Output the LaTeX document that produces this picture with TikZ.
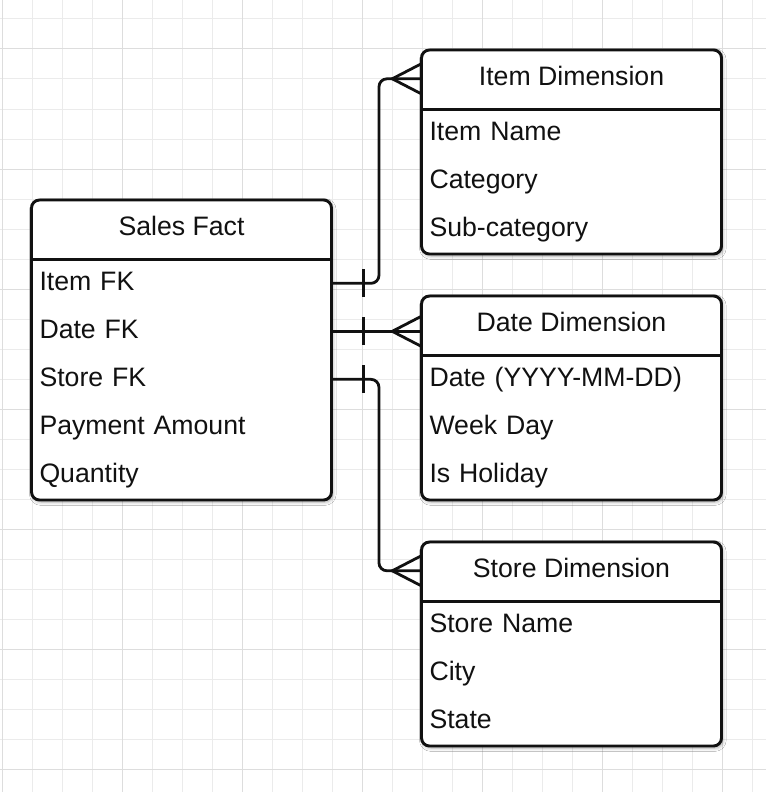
\documentclass[tikz,border=0pt]{standalone}
\usepackage{fontspec}
\setmainfont{Liberation Sans}
\usepackage{xcolor}
\usepackage{tikz}
\usetikzlibrary{
  arrows.meta, positioning,
  calc, shadows.blur
}
\definecolor{gridminor}{HTML}{EBEBEB}
\definecolor{gridmajor}{HTML}{DDDDDD}
\definecolor{inkblack} {HTML}{111111}
\tikzset{
  tablebox/.style={
    rectangle, rounded corners=6pt,
    minimum width=225pt, inner sep=0pt,
    draw=inkblack, fill=white, line width=2.2pt,
    blur shadow={shadow xshift=1pt, shadow yshift=-1.5pt,
                 shadow blur radius=2.5pt, shadow opacity=35}
  },
  headcell/.style={
    rectangle, minimum width=225pt, minimum height=45pt,
    inner sep=0pt, text height=14.5pt, text depth=4pt,
    text=inkblack
  },
  rowcell/.style={
    rectangle, anchor=north, text width=213pt, align=left,
    inner xsep=6pt, inner ysep=0pt, minimum height=36pt,
    text height=14.5pt, text depth=4pt, text=inkblack
  },
  divider/.style={line width=2.2pt, color=inkblack},
  erlink/.style={line width=2.1pt, color=inkblack, rounded corners=6pt},
  minorgrid/.style={line width=0.75pt, color=gridminor},
  majorgrid/.style={line width=0.75pt, color=gridmajor}
}

\begin{document}
\begin{tikzpicture}[
  x=0.75pt, y=-0.75pt,
  every node/.style={font=\fontsize{20}{24}\selectfont}
]
  \useasboundingbox (0,0) rectangle (766,792);
  \fill[white] (0,0) rectangle (766,792);

  % background grid
  \foreach \gx in {2,32,...,752}{
    \draw[minorgrid] (\gx,0) -- (\gx,792);
  }
  \foreach \gy in {19,49,...,769}{
    \draw[minorgrid] (0,\gy) -- (766,\gy);
  }
  \foreach \gx in {2,122,...,722}{
    \draw[majorgrid] (\gx,0) -- (\gx,792);
  }
  \foreach \gy in {49,169,...,769}{
    \draw[majorgrid] (0,\gy) -- (766,\gy);
  }

  % fact table
  \node[tablebox, minimum height=225pt] (sales) at (181.5,350) {};
  \node[headcell, below=0pt of sales.north] (saleshead) {Sales Fact};
  \draw[divider] (saleshead.south west) -- (saleshead.south east);
  \foreach \txt [count=\i] in {Item FK, Date FK, Store FK,
                               Payment Amount, Quantity}{
    \node[rowcell, yshift={-(\i-1)*36pt}] (sales\i) at (saleshead.south) {\txt};
  }

  % dimension tables
  \node[tablebox, minimum height=153pt] (item) at (571.5,152) {};
  \node[headcell, below=0pt of item.north] (itemhead) {Item Dimension};
  \draw[divider] (itemhead.south west) -- (itemhead.south east);
  \foreach \txt [count=\i] in {Item Name, Category, Sub-category}{
    \node[rowcell, yshift={-(\i-1)*36pt}] (item\i) at (itemhead.south) {\txt};
  }

  \node[tablebox, minimum height=153pt] (date) at (571.5,398) {};
  \node[headcell, below=0pt of date.north] (datehead) {Date Dimension};
  \draw[divider] (datehead.south west) -- (datehead.south east);
  \foreach \txt [count=\i] in {Date (YYYY-MM-DD), Week Day, Is Holiday}{
    \node[rowcell, yshift={-(\i-1)*36pt}] (date\i) at (datehead.south) {\txt};
  }

  \node[tablebox, minimum height=153pt] (store) at (571.5,644) {};
  \node[headcell, below=0pt of store.north] (storehead) {Store Dimension};
  \draw[divider] (storehead.south west) -- (storehead.south east);
  \foreach \txt [count=\i] in {Store Name, City, State}{
    \node[rowcell, yshift={-(\i-1)*36pt}] (store\i) at (storehead.south) {\txt};
  }

  % relationships
  \coordinate (itemfrom)  at (sales.east |- sales1);
  \coordinate (datefrom)  at (sales.east |- sales2);
  \coordinate (storefrom) at (sales.east |- sales3);
  \coordinate (itemto)  at (itemhead.west);
  \coordinate (dateto)  at (datehead.west |- sales2);
  \coordinate (storeto) at (storehead.west);

  \draw[erlink] (itemfrom) -- ++(34.5pt,0) |- (itemto);
  \draw[erlink] (datefrom) -- (dateto);
  \draw[erlink] (storefrom) -- ++(34.5pt,0) |- (storeto);

  \foreach \f in {itemfrom, datefrom, storefrom}{
    \draw[erlink] ([xshift=23pt, yshift=10.5pt]\f) -- ([xshift=23pt, yshift=-10.5pt]\f);
  }
  \foreach \t in {itemto, dateto, storeto}{
    \draw[erlink, rounded corners=0pt] ([yshift=11.25pt]\t) -- ([xshift=-21.75pt]\t)
      -- ([yshift=-11.25pt]\t);
  }
\end{tikzpicture}
\end{document}
